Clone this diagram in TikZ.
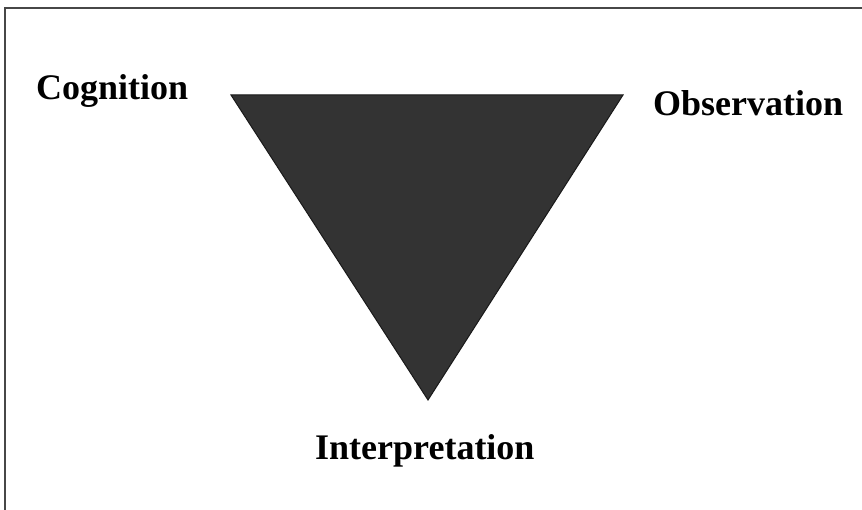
\documentclass[tikz,border=0pt]{standalone}
\usepackage{fontspec}
\setmainfont{Liberation Serif}
\begin{document}
\begin{tikzpicture}[x=1pt,y=1pt,
  lbl/.style={font=\bfseries\fontsize{36}{40}\selectfont, inner sep=0pt, anchor=base west},
  frameline/.style={draw=black!72, line width=2pt},
  tri/.style={fill=black!80, draw=black!90, line width=1pt, line join=miter}]
\useasboundingbox (0,0) rectangle (862,510);
% frame (left and top edges only)
\coordinate (fb) at (5,0);
\coordinate (fc) at (5,502);
\coordinate (fr) at (862,502);
\draw[frameline] (fb) -- (fc) -- (fr);
% triangle
\coordinate (tl) at (231,415);
\coordinate (tr) at (623,415);
\coordinate (tb) at (428,110);
\draw[tri] (tl) -- (tr) -- (tb) -- cycle;
% labels
\node[lbl] (cog) at (36,410) {Cognition};
\node[lbl] (obs) at (653,394) {Observation};
\node[lbl] (int) at (315,50) {Interpretation};
\end{tikzpicture}
\end{document}
